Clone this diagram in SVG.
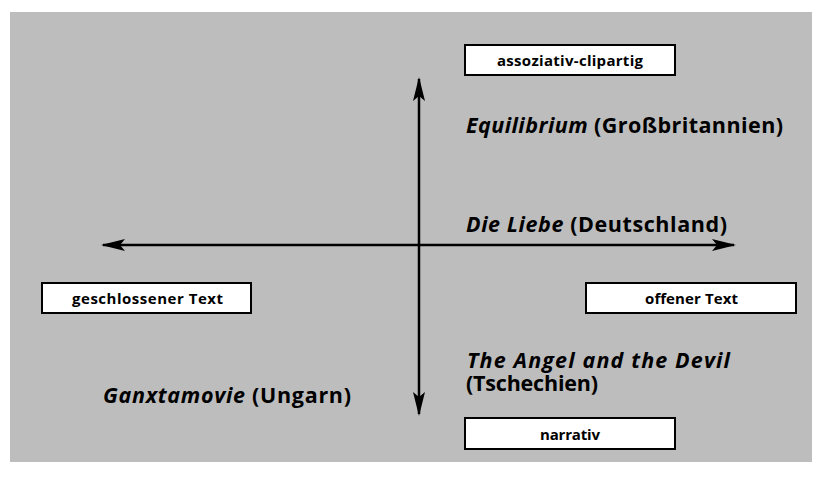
<svg xmlns="http://www.w3.org/2000/svg" width="815" height="477" viewBox="0 0 815 477">
<style>
.box{fill:#fff;stroke:#000;stroke-width:2}
.bl{font-family:"Open Sans",Lato,sans-serif;font-weight:bold;font-size:15px;fill:#000}
.lab{font-family:"Open Sans",Lato,sans-serif;font-weight:bold;font-size:21.5px;fill:#000}
.ax{stroke:#000;stroke-width:2.5;fill:none}
</style>
<defs>
<marker id="ah" viewBox="0 0 24 12" refX="22" refY="6" markerWidth="24" markerHeight="12" markerUnits="userSpaceOnUse" orient="auto">
<path d="M0,0 L24,6 L0,12 L5,6 Z" fill="#000"/>
</marker>
</defs>
<rect x="10" y="12" width="802" height="450" fill="#bdbdbd"/>
<g id="connectors">
<line class="ax" x1="419" y1="245" x2="419" y2="79" marker-end="url(#ah)"/>
<line class="ax" x1="419" y1="245" x2="419" y2="414" marker-end="url(#ah)"/>
<line class="ax" x1="419" y1="245" x2="103" y2="245" marker-end="url(#ah)"/>
<line class="ax" x1="419" y1="245" x2="734" y2="245" marker-end="url(#ah)"/>
</g>
<g id="n-assoziativ">
<rect class="box" x="465" y="45" width="210" height="30"/>
<text class="bl" x="497" y="65.5" textLength="146" lengthAdjust="spacing">assoziativ-clipartig</text>
</g>
<g id="n-geschlossen">
<rect class="box" x="42" y="283" width="209" height="30"/>
<text class="bl" x="72" y="303.5" textLength="151" lengthAdjust="spacing">geschlossener Text</text>
</g>
<g id="n-offen">
<rect class="box" x="586" y="283" width="210" height="30"/>
<text class="bl" x="645" y="303.5" textLength="93" lengthAdjust="spacing">offener Text</text>
</g>
<g id="n-narrativ">
<rect class="box" x="465" y="418" width="210" height="31"/>
<text class="bl" x="540" y="439.5" textLength="60" lengthAdjust="spacing">narrativ</text>
</g>
<g id="n-equilibrium">
<text class="lab" x="466" y="133" textLength="317" lengthAdjust="spacing"><tspan font-style="italic">Equilibrium</tspan> (Großbritannien)</text>
</g>
<g id="n-liebe">
<text class="lab" x="466" y="232" textLength="261" lengthAdjust="spacing"><tspan font-style="italic">Die Liebe</tspan> (Deutschland)</text>
</g>
<g id="n-angel">
<text class="lab" x="467" y="367.5" textLength="263" lengthAdjust="spacing" font-style="italic">The Angel and the Devil</text>
<text class="lab" x="466" y="391" textLength="132" lengthAdjust="spacing">(Tschechien)</text>
</g>
<g id="n-ganxta">
<text class="lab" x="103" y="403" textLength="248" lengthAdjust="spacing"><tspan font-style="italic">Ganxtamovie</tspan> (Ungarn)</text>
</g>
</svg>
